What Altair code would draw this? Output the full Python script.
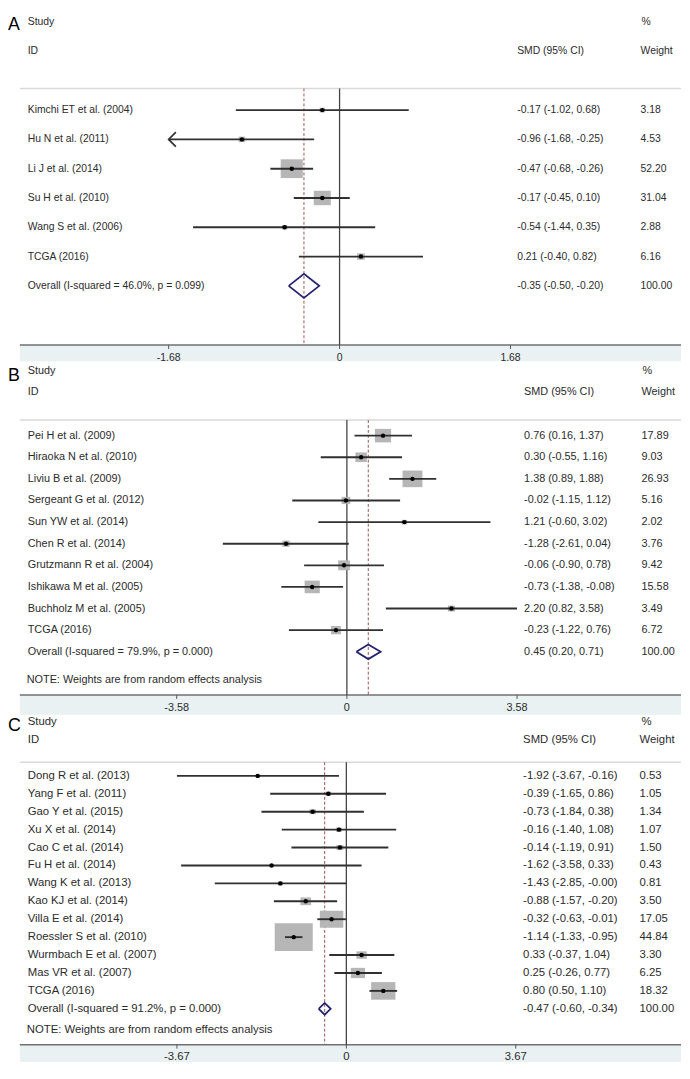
import altair as alt
import pandas as pd

FONT = "Liberation Sans"
TXT = "#2b2b2b"
BAND = "#e9f1f3"
BOX = "#b6b6b6"
LINE = "#303030"
NAVY = "#23236e"
DASH = "#a05252"

# ---------------- Panel A ----------------
a_study = ["Kimchi ET et al. (2004)", "Hu N et al. (2011)", "Li J et al. (2014)",
           "Su H et al. (2010)", "Wang S et al. (2006)", "TCGA (2016)"]
a_smd = [-0.17, -0.96, -0.47, -0.17, -0.54, 0.21]
a_lo = [-1.02, -1.68, -0.68, -0.45, -1.44, -0.40]
a_hi = [0.68, -0.25, -0.26, 0.10, 0.35, 0.82]
a_weight = [3.18, 4.53, 52.20, 31.04, 2.88, 6.16]
a_clipped_left = [False, True, False, False, False, False]
a_overall_label = "Overall  (I-squared = 46.0%, p = 0.099)"
a_overall = [-0.35, -0.50, -0.20]  # smd, lo, hi
a_ticks = [-1.68, 0, 1.68]

# ---------------- Panel B ----------------
b_study = ["Pei H et al. (2009)", "Hiraoka N et al. (2010)", "Liviu B et al. (2009)",
           "Sergeant G et al. (2012)", "Sun YW et al. (2014)", "Chen R et al. (2014)",
           "Grutzmann R et al. (2004)", "Ishikawa M et al. (2005)", "Buchholz M et al. (2005)",
           "TCGA (2016)"]
b_smd = [0.76, 0.30, 1.38, -0.02, 1.21, -1.28, -0.06, -0.73, 2.20, -0.23]
b_lo = [0.16, -0.55, 0.89, -1.15, -0.60, -2.61, -0.90, -1.38, 0.82, -1.22]
b_hi = [1.37, 1.16, 1.88, 1.12, 3.02, 0.04, 0.78, -0.08, 3.58, 0.76]
b_weight = [17.89, 9.03, 26.93, 5.16, 2.02, 3.76, 9.42, 15.58, 3.49, 6.72]
b_clipped_left = [False] * 10
b_overall_label = "Overall  (I-squared = 79.9%, p = 0.000)"
b_overall = [0.45, 0.20, 0.71]
b_ticks = [-3.58, 0, 3.58]

# ---------------- Panel C ----------------
c_study = ["Dong R et al. (2013)", "Yang F et al. (2011)", "Gao Y et al. (2015)",
           "Xu X et al. (2014)", "Cao C et al. (2014)", "Fu H et al. (2014)",
           "Wang K et al. (2013)", "Kao KJ et al. (2014)", "Villa E et al. (2014)",
           "Roessler S et al. (2010)", "Wurmbach E et al. (2007)", "Mas VR et al. (2007)",
           "TCGA (2016)"]
c_smd = [-1.92, -0.39, -0.73, -0.16, -0.14, -1.62, -1.43, -0.88, -0.32, -1.14, 0.33, 0.25, 0.80]
c_lo = [-3.67, -1.65, -1.84, -1.40, -1.19, -3.58, -2.85, -1.57, -0.63, -1.33, -0.37, -0.26, 0.50]
c_hi = [-0.16, 0.86, 0.38, 1.08, 0.91, 0.33, -0.0, -0.20, -0.01, -0.95, 1.04, 0.77, 1.10]
c_weight = [0.53, 1.05, 1.34, 1.07, 1.50, 0.43, 0.81, 3.50, 17.05, 44.84, 3.30, 6.25, 18.32]
c_clipped_left = [False] * 13
c_overall_label = "Overall  (I-squared = 91.2%, p = 0.000)"
c_overall = [-0.47, -0.60, -0.34]
c_ticks = [-3.67, 0, 3.67]

NOTE = "NOTE: Weights are from random effects analysis"

W = 682
X0 = 12  # left start of rules / band (pixels)

LAYOUT = {
    "A": dict(h=351, xdom=[-3.259, 3.356], ydom=[-2.246, 9.577], grey=0.264, axis=9.02,
              tick=0.135, ticklab=9.48, note=None, dia=0.41, k=2.63, aspect=1.18,
              fs=10.5, smd_x=516, w_x=641, pct_x=642, letter_y=-1.75),
    "B": dict(h=355, xdom=[-7.13, 7.03], ydom=[-2.30, 13.91], grey=0.28, axis=13.0,
              tick=0.18, ticklab=13.6, note=12.31, dia=0.34, k=3.24, aspect=1.2,
              fs=11, smd_x=523, w_x=642, pct_x=643, letter_y=-1.54),
    "C": dict(h=352, xdom=[-7.33, 7.25], ydom=[-2.418, 16.97], grey=0.24, axis=16.0,
              tick=0.22, ticklab=16.7, note=15.19, dia=0.33, k=4.17, aspect=1.38,
              fs=11.5, smd_x=522, w_x=640, pct_x=642, letter_y=-1.50),
}


def fmt_ci(s, l, h):
    return f"{s:.2f} ({l:.2f}, {h:.2f})"


def panel(letter, study, smd, lo, hi, weight, clipped, ov_label, ov, ticks, note):
    L = LAYOUT[letter]
    n = len(study)
    xs = alt.Scale(domain=L["xdom"], nice=False, zero=False)
    ys = alt.Scale(domain=L["ydom"], nice=False, zero=False, reverse=True)

    def X(f):
        return alt.X(f, scale=xs, axis=None)

    def Y(f):
        return alt.Y(f, scale=ys, axis=None)

    df = pd.DataFrame({"study": study, "smd": smd, "lo": lo, "hi": hi,
                       "weight": weight, "clip": clipped, "row": list(range(1, n + 1))})
    k2 = L["k"] ** 2

    txt = pd.DataFrame({
        "label": list(study) + [ov_label],
        "ci": [fmt_ci(s, l, h) for s, l, h in zip(smd, lo, hi)] + [fmt_ci(*ov)],
        "wt": [f"{w:.2f}" for w in weight] + ["100.00"],
        "row": list(range(1, n + 2)),
    })
    ovrow = n + 1
    fs = L["fs"]

    def text_layer(data, field, x, size=fs, align="left", baseline="middle", color=TXT):
        return alt.Chart(data).mark_text(align=align, baseline=baseline, font=FONT,
                                         fontSize=size, color=color).encode(
            x=alt.value(x), y=Y("row:Q"), text=f"{field}:N")

    layers = []
    layers.append(alt.Chart(pd.DataFrame({"y1": [L["axis"]], "y2": [L["ydom"][1]]}))
                  .mark_rect(color=BAND)
                  .encode(x=alt.value(X0), x2=alt.value(W), y=Y("y1:Q"), y2=alt.Y2("y2:Q")))
    layers.append(alt.Chart(pd.DataFrame({"y": [L["grey"]]}))
                  .mark_rule(color="#d9d9d9", strokeWidth=1.5)
                  .encode(x=alt.value(X0), x2=alt.value(W), y=Y("y:Q")))
    layers.append(alt.Chart(pd.DataFrame({"y": [L["axis"]]}))
                  .mark_rule(color="#707070", strokeWidth=1.5)
                  .encode(x=alt.value(X0), x2=alt.value(W), y=Y("y:Q")))
    tdf = pd.DataFrame({"t": ticks, "y1": [L["axis"]] * len(ticks),
                        "y2": [L["axis"] + L["tick"]] * len(ticks),
                        "yl": [L["ticklab"]] * len(ticks),
                        "lab": [f"{t:g}" for t in ticks]})
    layers.append(alt.Chart(tdf).mark_rule(color="#555555", strokeWidth=1)
                  .encode(x=X("t:Q"), y=Y("y1:Q"), y2=alt.Y2("y2:Q")))
    layers.append(alt.Chart(tdf).mark_text(font=FONT, fontSize=fs, color=TXT, baseline="middle")
                  .encode(x=X("t:Q"), y=Y("yl:Q"), text="lab:N"))
    vl = pd.DataFrame({"x": [0.0], "y1": [L["grey"]], "y2": [L["axis"]]})
    layers.append(alt.Chart(vl).mark_rule(color="#444444", strokeWidth=1.3)
                  .encode(x=X("x:Q"), y=Y("y1:Q"), y2=alt.Y2("y2:Q")))
    dl = pd.DataFrame({"x": [ov[0]], "y1": [L["grey"]], "y2": [L["axis"]]})
    layers.append(alt.Chart(dl).mark_rule(color=DASH, strokeWidth=1, strokeDash=[3, 2])
                  .encode(x=X("x:Q"), y=Y("y1:Q"), y2=alt.Y2("y2:Q")))
    a = L["aspect"]
    box_path = f"M{-a},-1H{a}V1H{-a}Z"
    layers.append(alt.Chart(df).transform_calculate(bs=f"datum.weight * {k2}")
                  .mark_point(shape=box_path, filled=True, color=BOX, opacity=1, strokeWidth=0)
                  .encode(x=X("smd:Q"), y=Y("row:Q"), size=alt.Size("bs:Q", scale=None, legend=None)))
    layers.append(alt.Chart(df).mark_rule(color=LINE, strokeWidth=1.9)
                  .encode(x=X("lo:Q"), x2=alt.X2("hi:Q"), y=Y("row:Q")))
    layers.append(alt.Chart(df).transform_filter("datum.clip")
                  .mark_point(shape="M1,-1L0,0L1,1", filled=False, color=LINE, strokeWidth=1.7,
                              size=213, opacity=1)
                  .encode(x=X("lo:Q"), y=Y("row:Q")))
    layers.append(alt.Chart(df).mark_point(shape="circle", filled=True, color="#000000",
                                           size=20, opacity=1)
                  .encode(x=X("smd:Q"), y=Y("row:Q")))
    h = L["dia"]
    dia = pd.DataFrame({"x": [ov[1], ov[0], ov[2], ov[0], ov[1]],
                        "y": [ovrow, ovrow - h, ovrow, ovrow + h, ovrow],
                        "o": [0, 1, 2, 3, 4]})
    layers.append(alt.Chart(dia).mark_line(color=NAVY, strokeWidth=1.8)
                  .encode(x=X("x:Q"), y=Y("y:Q"), order=alt.Order("o:Q")))
    layers.append(text_layer(txt, "label", 20))
    layers.append(text_layer(txt, "ci", L["smd_x"]))
    layers.append(text_layer(txt, "wt", L["w_x"]))
    layers.append(text_layer(pd.DataFrame({"t": ["Study", "ID"], "row": [-2, -1]}), "t", 20))
    layers.append(text_layer(pd.DataFrame({"t": ["SMD (95% CI)"], "row": [-1]}), "t", L["smd_x"]))
    layers.append(text_layer(pd.DataFrame({"t": ["%"], "row": [-2]}), "t", L["pct_x"]))
    layers.append(text_layer(pd.DataFrame({"t": ["Weight"], "row": [-1]}), "t", L["w_x"]))
    if note:
        layers.append(text_layer(pd.DataFrame({"t": [note], "row": [L["note"]]}), "t", 19))
    layers.append(alt.Chart(pd.DataFrame({"t": [letter], "row": [L["letter_y"]]}))
                  .mark_text(align="left", baseline="alphabetic", font=FONT, fontSize=18,
                             color="#000000")
                  .encode(x=alt.value(0), y=Y("row:Q"), text="t:N"))

    return alt.layer(*layers).properties(
        width=W, height=L["h"],
        view=alt.ViewBackground(stroke="transparent", strokeWidth=0))


pA = panel("A", a_study, a_smd, a_lo, a_hi, a_weight, a_clipped_left, a_overall_label, a_overall, a_ticks, None)
pB = panel("B", b_study, b_smd, b_lo, b_hi, b_weight, b_clipped_left, b_overall_label, b_overall, b_ticks, NOTE)
pC = panel("C", c_study, c_smd, c_lo, c_hi, c_weight, c_clipped_left, c_overall_label, c_overall, c_ticks, NOTE)

chart = (alt.vconcat(pA, pB, pC, spacing=0)
         .resolve_scale(x="independent", y="independent", size="independent")
         .properties(padding=0, background="white")
         .configure_view(stroke="transparent", strokeWidth=0))

chart.save("out.html", embed_options={"renderer": "svg", "actions": False})
